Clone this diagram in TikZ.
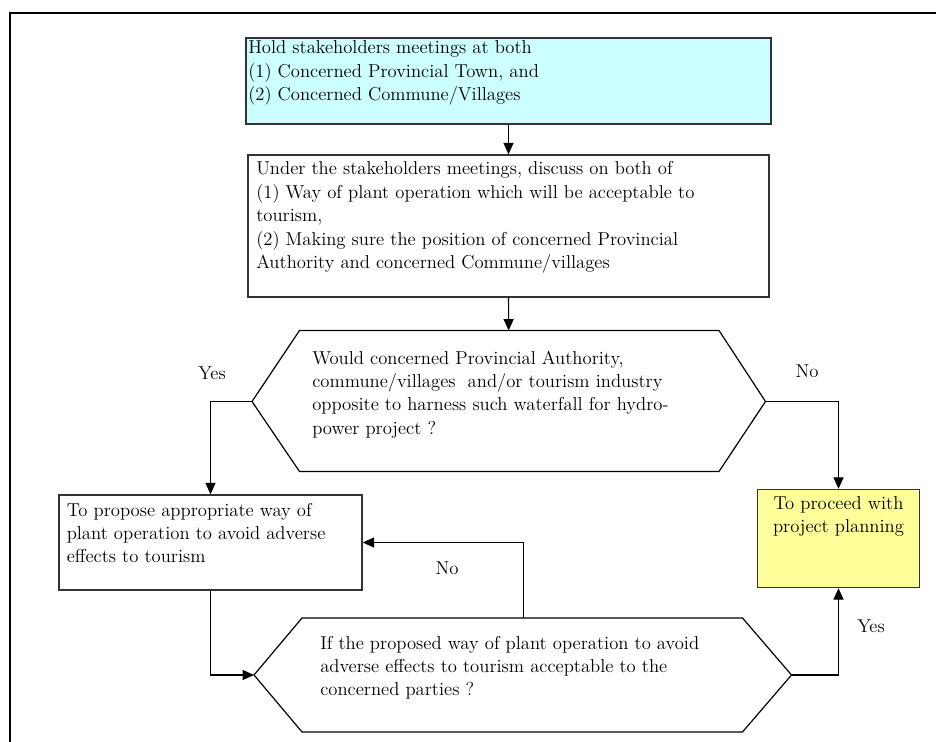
\documentclass[tikz,border=0pt]{standalone}
\usetikzlibrary{arrows.meta,fit}
\definecolor{cyanfill}{HTML}{CCFFFF}
\definecolor{yelfill}{HTML}{FFFF99}
\newcommand\mytl[1]{\vtop{\baselineskip=17.6pt\lineskiplimit=-20pt\halign{##\hfil\cr#1\crcr}}}
\newcommand\myctl[1]{\vtop{\baselineskip=17.6pt\lineskiplimit=-20pt\halign{\hfil##\hfil\cr#1\crcr}}}
\tikzset{
  boxshape/.style={draw=black!80, line width=1.1pt, inner sep=0pt},
  txt/.style={anchor=base west, inner sep=0pt, font=\fontsize{14}{17.6}\selectfont},
  lbl/.style={anchor=base, inner sep=0pt, font=\fontsize{14}{17.6}\selectfont},
  arr/.style={draw=black, line width=0.8pt, -{Triangle[length=8.5pt,width=7.5pt]}},
  hexshape/.style={draw=black, line width=0.9pt, line join=miter},
  frame/.style={draw=black, line width=1.6pt}
}
\begin{document}
\begin{tikzpicture}[x=0.75pt,y=-0.75pt]
\clip (0,0) rectangle (936,742);
\fill[white] (0,0) rectangle (936,742);
% outer frame
\coordinate (fa) at (10,760);
\coordinate (fb) at (10,13);
\coordinate (fc) at (950,13);
\draw[frame] (fa) -- (fb) -- (fc);

% box 1
\coordinate (b1nw) at (246,38); \coordinate (b1se) at (771,124);
\node[boxshape, fill=cyanfill, fit=(b1nw)(b1se)] (b1) {};
\node[txt] (t1) at (248,54) {\mytl{Hold stakeholders meetings at both\cr (1) Concerned Provincial Town, and\cr (2) Concerned Commune/Villages}};

% box 2
\coordinate (b2nw) at (248,155); \coordinate (b2se) at (769,297);
\node[boxshape, fit=(b2nw)(b2se)] (b2) {};
\node[txt] (t2) at (256,175) {\mytl{Under the stakeholders meetings, discuss on both of\cr (1) Way of plant operation which will be acceptable to\cr tourism,\cr (2) Making sure the position of concerned Provincial\cr Authority and concerned Commune/villages}};

% hexagon 1
\coordinate (h1L) at (252,401.5);
\coordinate (h1TL) at (299.5,330.5);
\coordinate (h1TR) at (719,330.5);
\coordinate (h1R) at (765.5,401.5);
\coordinate (h1BR) at (719,471.5);
\coordinate (h1BL) at (299.5,471.5);
\coordinate (h1T) at (508.7,330.5);
\draw[hexshape] (h1L) -- (h1TL) -- (h1TR) -- (h1R) -- (h1BR) -- (h1BL) -- cycle;
\node[txt] (t3) at (312,364) {\mytl{Would concerned Provincial Authority,\cr commune/villages\ \ and/or tourism industry\cr opposite to harness such waterfall for hydro-\cr power project ?}};

% box 3
\coordinate (b3nw) at (59,495); \coordinate (b3se) at (362,590);
\node[boxshape, fit=(b3nw)(b3se)] (b3) {};
\node[txt] (t4) at (66.5,516) {\mytl{To propose appropriate way of\cr plant operation to avoid adverse\cr effects to tourism}};

% yellow box
\coordinate (ynw) at (757.5,489.5); \coordinate (yse) at (919.5,587.5);
\node[boxshape, fill=yelfill, fit=(ynw)(yse)] (yb) {};
\node[lbl] (t5) at (838.5,509) {\myctl{To proceed with\cr project planning}};

% hexagon 2
\coordinate (h2L) at (254,675);
\coordinate (h2TL) at (302,618);
\coordinate (h2TR) at (742.5,618);
\coordinate (h2R) at (791.5,675);
\coordinate (h2BR) at (742.5,732);
\coordinate (h2BL) at (302,732);
\coordinate (h2T) at (523.6,618);
\draw[hexshape] (h2L) -- (h2TL) -- (h2TR) -- (h2R) -- (h2BR) -- (h2BL) -- cycle;
\node[txt] (t6) at (320,649) {\mytl{If the proposed way of plant operation to avoid\cr adverse effects to tourism acceptable to the\cr concerned parties ?}};

% connectors
\draw[arr] (b1.south) -- (b2.north);
\draw[arr] (b2.south) -- (h1T);
\draw[arr] (h1L) -| (b3.north);
\draw[arr] (h1R) -| (yb.north);
\draw[arr] (b3.south) |- (h2L);
\draw[arr] (h2T) |- (b3.east);
\draw[arr] (h2R) -| (yb.south);

% labels
\node[lbl] (yes1) at (212,379) {Yes};
\node[lbl] (no1) at (807,377) {No};
\node[lbl] (no2) at (447,574) {No};
\node[lbl] (yes2) at (871,632) {Yes};
\end{tikzpicture}
\end{document}
